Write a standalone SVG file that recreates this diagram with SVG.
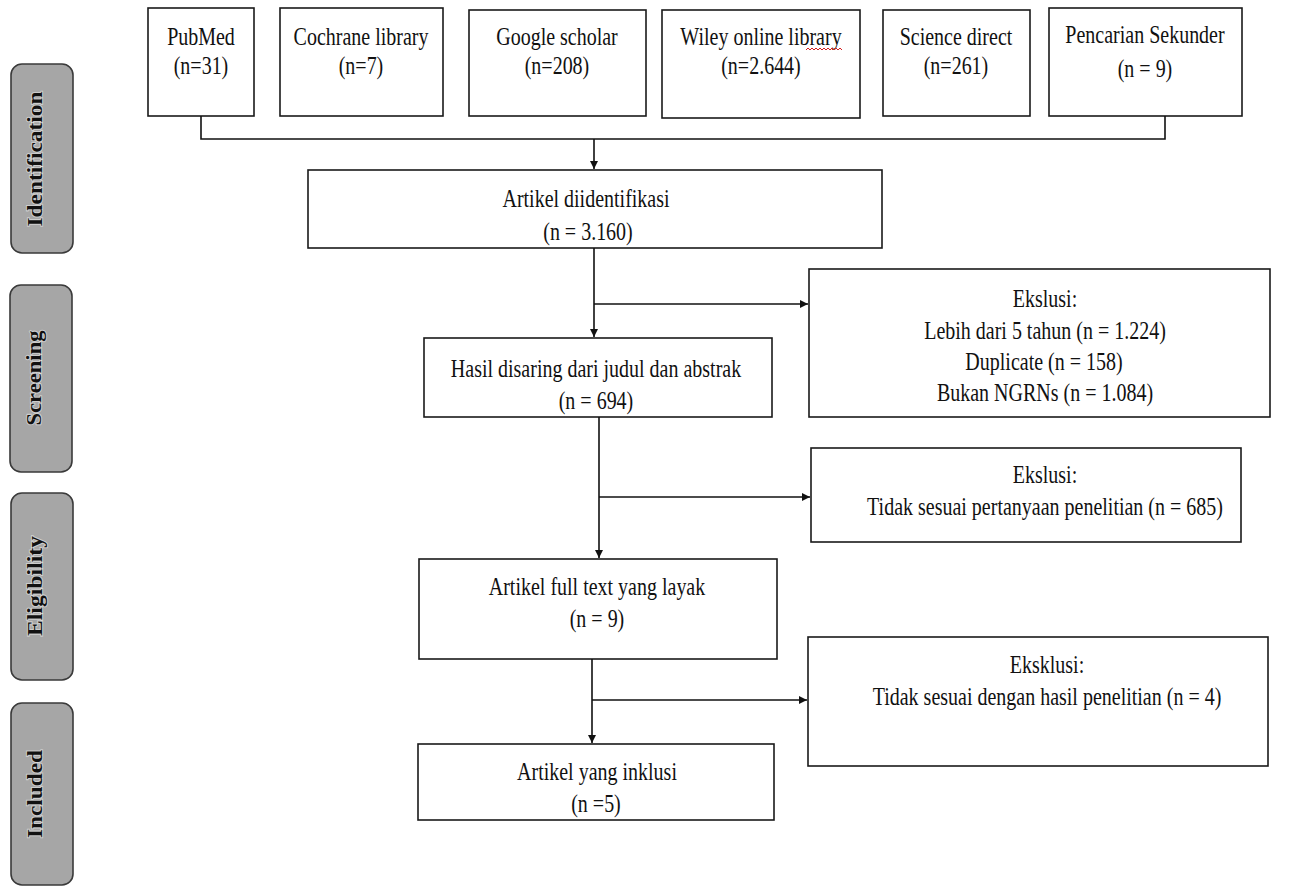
<svg xmlns="http://www.w3.org/2000/svg" width="1292" height="887" viewBox="0 0 1292 887">
<defs>
<style>
.box{fill:#fff;stroke:#1a1a1a;stroke-width:1.6}
.side{fill:#a6a6a6;stroke:#3a3a3a;stroke-width:1.6}
.t{font-family:"Liberation Serif","Times New Roman",serif;font-size:20px;fill:#111;text-anchor:middle}
.s{font-family:"Liberation Serif","Times New Roman",serif;font-size:22px;font-weight:bold;fill:#111;text-anchor:middle;paint-order:stroke;stroke:#fff;stroke-opacity:0.45;stroke-width:2}
.ln{fill:none;stroke:#111;stroke-width:1.6}
</style>
<marker id="ah" viewBox="0 0 10 10" refX="10" refY="5" markerWidth="5" markerHeight="5" orient="auto" markerUnits="strokeWidth">
<path d="M0,0 L10,5 L0,10 Z" fill="#111"/>
</marker>
</defs>
<rect width="1292" height="887" fill="#fff"/>

<g id="phase-identification"><rect class="side" x="11" y="64" width="62" height="189" rx="11"/><text class="s" transform="translate(42,159) rotate(-90)" textLength="135" lengthAdjust="spacingAndGlyphs">Identification</text></g>
<g id="phase-screening"><rect class="side" x="10" y="285" width="62" height="187" rx="11"/><text class="s" transform="translate(41,378) rotate(-90)" textLength="95" lengthAdjust="spacingAndGlyphs">Screening</text></g>
<g id="phase-eligibility"><rect class="side" x="11" y="493" width="62" height="187" rx="11"/><text class="s" transform="translate(42,586) rotate(-90)" textLength="100" lengthAdjust="spacingAndGlyphs">Eligibility</text></g>
<g id="phase-included"><rect class="side" x="11" y="703" width="62" height="182" rx="11"/><text class="s" transform="translate(42,794) rotate(-90)" textLength="88" lengthAdjust="spacingAndGlyphs">Included</text></g>

<g id="src-pubmed"><rect class="box" x="148" y="8" width="106" height="108"/><text class="t" transform="translate(201,45) scale(1,1.25)">PubMed</text><text class="t" transform="translate(201,74) scale(1,1.25)">(n=31)</text></g>
<g id="src-cochrane"><rect class="box" x="280" y="8" width="163" height="108"/><text class="t" transform="translate(361,45) scale(1,1.25)">Cochrane library</text><text class="t" transform="translate(361,74) scale(1,1.25)">(n=7)</text></g>
<g id="src-google"><rect class="box" x="469" y="10" width="177" height="106"/><text class="t" transform="translate(557,45) scale(1,1.25)">Google scholar</text><text class="t" transform="translate(557,74) scale(1,1.25)">(n=208)</text></g>
<g id="src-wiley"><rect class="box" x="662" y="10" width="198" height="108"/><text class="t" transform="translate(761,45) scale(1,1.25)">Wiley online library</text><text class="t" transform="translate(761,74) scale(1,1.25)">(n=2.644)</text><path d="M806,50 l2,-2 l2,2 l2,-2 l2,2 l2,-2 l2,2 l2,-2 l2,2 l2,-2 l2,2 l2,-2 l2,2 l2,-2 l2,2 l2,-2 l2,2 l2,-2 l2,2" fill="none" stroke="#d42020" stroke-width="1"/></g>
<g id="src-sciencedirect"><rect class="box" x="883" y="10" width="147" height="106"/><text class="t" transform="translate(956,45) scale(1,1.25)">Science direct</text><text class="t" transform="translate(956,74) scale(1,1.25)">(n=261)</text></g>
<g id="src-sekunder"><rect class="box" x="1049" y="8" width="193" height="108"/><text class="t" transform="translate(1145,43) scale(1,1.25)">Pencarian Sekunder</text><text class="t" transform="translate(1145,77) scale(1,1.25)">(n = 9)</text></g>

<g id="identified"><rect class="box" x="308" y="170" width="574" height="78"/><text class="t" transform="translate(586,207) scale(1,1.25)">Artikel diidentifikasi</text><text class="t" transform="translate(588,240) scale(1,1.25)">(n = 3.160)</text></g>
<g id="excl-1"><rect class="box" x="809" y="269" width="461" height="148"/><text class="t" transform="translate(1045,307) scale(1,1.25)">Ekslusi:</text><text class="t" transform="translate(1045,339) scale(1,1.25)">Lebih dari 5 tahun (n = 1.224)</text><text class="t" transform="translate(1044,370) scale(1,1.25)">Duplicate (n = 158)</text><text class="t" transform="translate(1045,401) scale(1,1.25)">Bukan NGRNs (n = 1.084)</text></g>
<g id="screened"><rect class="box" x="424" y="338" width="348" height="79"/><text class="t" transform="translate(596,377) scale(1,1.25)">Hasil disaring dari judul dan abstrak</text><text class="t" transform="translate(596,409) scale(1,1.25)">(n = 694)</text></g>
<g id="excl-2"><rect class="box" x="811" y="448" width="430" height="94"/><text class="t" transform="translate(1045,483) scale(1,1.25)">Ekslusi:</text><text class="t" transform="translate(1045,515) scale(1,1.25)">Tidak sesuai pertanyaan penelitian (n = 685)</text></g>
<g id="eligible"><rect class="box" x="419" y="559" width="358" height="100"/><text class="t" transform="translate(597,595) scale(1,1.25)">Artikel full text yang layak</text><text class="t" transform="translate(597,627) scale(1,1.25)">(n = 9)</text></g>
<g id="excl-3"><rect class="box" x="808" y="637" width="460" height="129"/><text class="t" transform="translate(1047,673) scale(1,1.25)">Eksklusi:</text><text class="t" transform="translate(1047,705) scale(1,1.25)">Tidak sesuai dengan hasil penelitian (n = 4)</text></g>
<g id="included"><rect class="box" x="418" y="744" width="356" height="76"/><text class="t" transform="translate(597,780) scale(1,1.25)">Artikel yang inklusi</text><text class="t" transform="translate(596,812) scale(1,1.25)">(n =5)</text></g>

<g id="connectors">
<path class="ln" d="M201,116 V139 H1165 V116"/>
<path class="ln" d="M594,139 V169" marker-end="url(#ah)"/>
<path class="ln" d="M594,248 V337" marker-end="url(#ah)"/>
<path class="ln" d="M594,304 H808" marker-end="url(#ah)"/>
<path class="ln" d="M599,417 V558" marker-end="url(#ah)"/>
<path class="ln" d="M599,497 H810" marker-end="url(#ah)"/>
<path class="ln" d="M592,659 V743" marker-end="url(#ah)"/>
<path class="ln" d="M592,700 H807" marker-end="url(#ah)"/>
</g>
</svg>
